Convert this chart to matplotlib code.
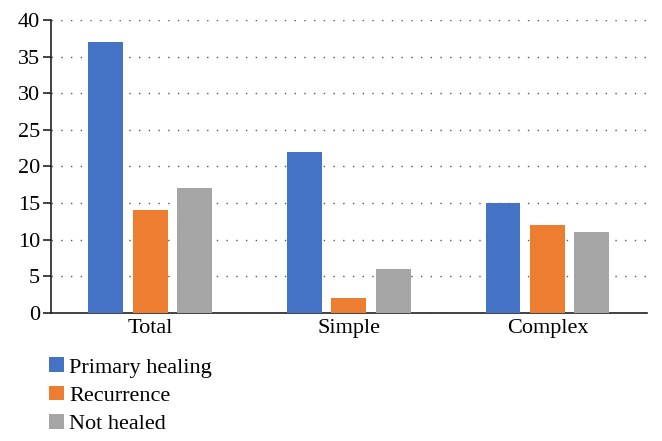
import matplotlib
matplotlib.use("Agg")
import matplotlib.pyplot as plt
import numpy as np

categories = ["Total", "Simple", "Complex"]
series_names = ["Primary healing", "Recurrence", "Not healed"]
primary = [37, 22, 15]
recurrence = [14, 2, 12]
not_healed = [17, 6, 11]
colors = ["#4472C4", "#ED7D31", "#A5A5A5"]
yticks = [0, 5, 10, 15, 20, 25, 30, 35, 40]

plt.rcParams['font.family'] = ['Liberation Serif', 'DejaVu Serif']

fig = plt.figure(figsize=(6.62, 4.41), dpi=100)
ax = fig.add_axes([0.077, 0.29, 0.9, 0.665])

x = np.arange(len(categories))
w = 0.176
step = 0.224
for i, (vals, name, c) in enumerate(zip([primary, recurrence, not_healed], series_names, colors)):
    ax.bar(x + (i - 1) * step, vals, width=w, color=c, label=name, zorder=3)

ax.set_xlim(-0.5, 2.5)
ax.set_ylim(0, 40)
ax.set_yticks(yticks)
ax.set_xticks(x)
ax.set_xticklabels(categories)
ax.yaxis.grid(True, linestyle=(0, (1, 6)), color="#555555", linewidth=1.0, zorder=0)
for s in ["top", "right"]:
    ax.spines[s].set_visible(False)
for s in ["left", "bottom"]:
    ax.spines[s].set_color("#222222")
    ax.spines[s].set_linewidth(1.2)
ax.tick_params(axis="x", length=0, labelsize=16, pad=4)
ax.tick_params(axis="y", length=6, width=1.2, color="#222222", labelsize=16, pad=2)

fig.legend(loc="upper left", bbox_to_anchor=(0.061, 0.21), frameon=False,
           fontsize=16, handlelength=0.65, handleheight=0.65, handletextpad=0.25,
           labelspacing=0.36, borderaxespad=0)

fig.savefig("out.png", dpi=100)
